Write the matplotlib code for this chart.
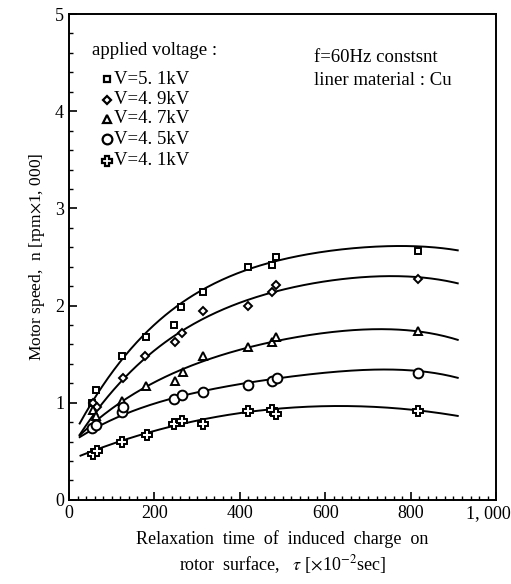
import matplotlib
matplotlib.use('Agg')
import matplotlib.pyplot as plt
import numpy as np
from matplotlib.ticker import MultipleLocator, FuncFormatter

plt.rcParams['font.family'] = ['Liberation Serif', 'DejaVu Serif']
plt.rcParams['mathtext.fontset'] = 'stix'

# measured points, relaxation time [x10^-2 sec] vs motor speed [rpm x 1000]
x_51 = [55, 63, 123, 180, 246, 262, 314, 418, 476, 484, 817]
y_51 = [1.00, 1.13, 1.48, 1.68, 1.80, 1.99, 2.14, 2.40, 2.42, 2.50, 2.56]
x_49 = [57, 65, 127, 178, 248, 264, 314, 418, 476, 484, 817]
y_49 = [1.00, 0.96, 1.25, 1.48, 1.63, 1.72, 1.94, 2.00, 2.14, 2.21, 2.27]
x_47 = [57, 64, 125, 180, 248, 266, 314, 418, 476, 484, 817]
y_47 = [0.93, 0.86, 1.02, 1.17, 1.22, 1.32, 1.48, 1.57, 1.62, 1.68, 1.74]
x_45 = [55, 63, 123, 127, 246, 264, 314, 418, 476, 486, 817]
y_45 = [0.74, 0.77, 0.90, 0.96, 1.04, 1.08, 1.11, 1.18, 1.22, 1.25, 1.31]
x_41 = [57, 65, 123, 182, 246, 264, 314, 419, 476, 484, 817]
y_41 = [0.47, 0.50, 0.60, 0.67, 0.78, 0.81, 0.78, 0.91, 0.93, 0.88, 0.92]

# points
cx_51 = [25, 40, 61, 119, 178, 264, 314, 418, 484, 540, 727, 817, 910]
cy_51 = [0.72, 0.90, 1.13, 1.46, 1.69, 1.99, 2.14, 2.38, 2.48, 2.53, 2.60, 2.59, 2.58]
cx_49 = [25, 60, 127, 178, 248, 314, 418, 484, 540, 727, 817, 910]
cy_49 = [0.64, 0.92, 1.25, 1.48, 1.67, 1.84, 2.04, 2.16, 2.23, 2.30, 2.27, 2.24]
cx_47 = [25, 60, 127, 178, 264, 314, 418, 484, 540, 696, 817, 910]
cy_47 = [0.64, 0.83, 1.03, 1.16, 1.32, 1.42, 1.57, 1.65, 1.68, 1.75, 1.73, 1.65]
cx_45 = [25, 123, 180, 246, 314, 419, 476, 540, 727, 817, 910]
cy_45 = [0.64, 0.88, 0.97, 1.04, 1.11, 1.20, 1.25, 1.29, 1.34, 1.32, 1.26]
cx_41 = [27, 123, 182, 260, 314, 419, 484, 540, 696, 817, 910]
cy_41 = [0.46, 0.60, 0.68, 0.79, 0.83, 0.91, 0.94, 0.94, 0.96, 0.93, 0.86]

labels = ['V=5. 1kV', 'V=4. 9kV', 'V=4. 7kV', 'V=4. 5kV', 'V=4. 1kV']
markers = ['s', 'D', '^', 'o', 'P']
msizes = [5, 4.5, 6, 7, 7.5]

series = [
    (x_51, y_51, cx_51, cy_51),
    (x_49, y_49, cx_49, cy_49),
    (x_47, y_47, cx_47, cy_47),
    (x_45, y_45, cx_45, cy_45),
    (x_41, y_41, cx_41, cy_41),
]

fig = plt.figure(figsize=(5.11, 5.84), dpi=100)
ax = fig.add_axes([0.135, 0.144, 0.836, 0.832])

for (xs, ys, cx, cy), mk, ms in zip(series, markers, msizes):
    # smooth fit through the read curve points
    coef = np.polyfit(cx, cy, 4)
    xx = np.linspace(cx[0], cx[-1], 200)
    ax.plot(xx, np.polyval(coef, xx), color='black', lw=1.4)
    ax.plot(xs, ys, ls='none', marker=mk, ms=ms, mfc='white', mec='black', mew=1.4)

ax.set_xlim(0, 1000)
ax.set_ylim(0, 5)
ax.xaxis.set_major_locator(MultipleLocator(200))
ax.xaxis.set_minor_locator(MultipleLocator(20))
ax.yaxis.set_major_locator(MultipleLocator(1))
ax.yaxis.set_minor_locator(MultipleLocator(0.2))
# last label drawn by hand so it stays inside the image
ax.xaxis.set_major_formatter(FuncFormatter(lambda v, p: '' if v >= 1000 else f'{v:.0f}'))
ax.tick_params(which='both', direction='in', top=False, right=False, labelsize=13)
ax.tick_params(which='major', length=6, width=1.2)
ax.tick_params(which='minor', length=3, width=1.0)
for s in ax.spines.values():
    s.set_linewidth(1.4)
ax.annotate('1, 000', xy=(1000, 0), xycoords='data', xytext=(10.5, -3.5),
            textcoords='offset points', ha='right', va='top', fontsize=13)

ax.set_ylabel('Motor speed,  n [rpm$\\times$1, 000]', fontsize=12.5, labelpad=6)
ax.set_xlabel('Relaxation  time  of  induced  charge  on\nrotor  surface,   $\\tau$ [$\\times$10$^{-2}$sec]',
              fontsize=13, linespacing=1.3, labelpad=6)

# legend-like text block
ax.text(54, 4.62, 'applied voltage :', fontsize=13.5, va='center')
ly = [4.33, 4.12, 3.92, 3.71, 3.49]
for lab, mk, ms, yy in zip(labels, markers, msizes, ly):
    ax.plot([88], [yy], ls='none', marker=mk, ms=ms, mfc='white', mec='black', mew=1.6)
    ax.text(106, yy, lab, fontsize=13.5, va='center')

ax.text(573, 4.55, 'f=60Hz constsnt', fontsize=13.5, va='center')
ax.text(573, 4.32, 'liner material : Cu', fontsize=13.5, va='center')

fig.savefig('out.png', dpi=100)
